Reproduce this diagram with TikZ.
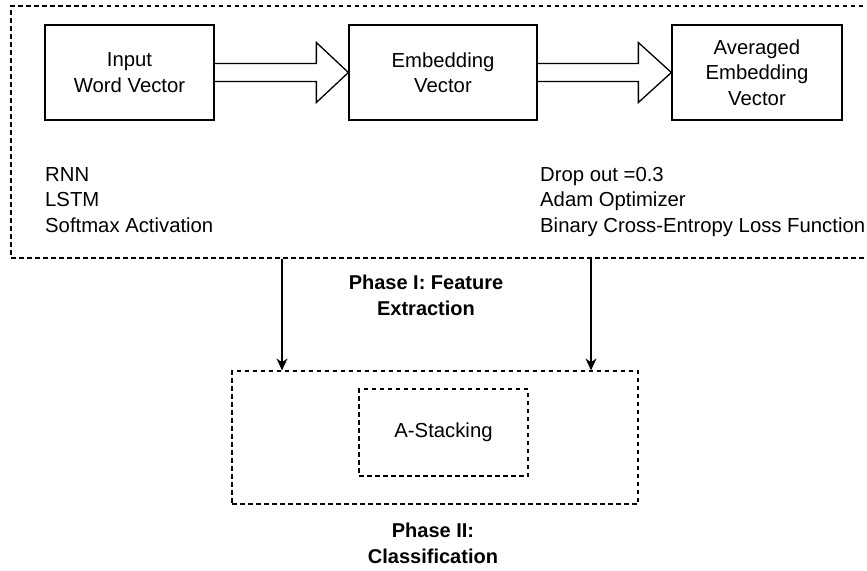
\documentclass[tikz,border=0pt]{standalone}
\usepackage{fontspec}
\setmainfont{Liberation Sans}
\usetikzlibrary{arrows.meta,calc}
\begin{document}
\begin{tikzpicture}[x=1pt,y=-1pt,
  every node/.style={font=\fontsize{20.3}{25.5}\selectfont},
  box/.style={draw, line width=1.3pt, minimum height=95pt, align=center, inner sep=0pt},
  dbox/.style={draw, line width=1.2pt, dash pattern=on 4.5pt off 3.5pt, inner sep=0pt},
  blockarrow/.style={draw, line width=1.3pt, line join=miter},
  flow/.style={line width=1.3pt, -{Stealth[length=12pt,width=11pt]}},
  phase/.style={font=\bfseries\fontsize{20}{26}\selectfont, align=center},
  list/.style={align=left, anchor=base west, inner sep=0pt}]
\useasboundingbox (0,0) rectangle (867,570);
\clip (0,0) rectangle (867,570);
% Phase I container (right edge runs past the picture)
\node[dbox, minimum width=864pt, minimum height=252pt] (ph1) at (443,132) {};
% boxes
\node[box, minimum width=169pt] (b1) at (129.5,72.5) {Input\\Word Vector};
\node[box, minimum width=188pt] (b2) at (443,72.5) {Embedding\\Vector};
\node[box, minimum width=170pt] (b3) at (757,72.5) {Averaged\\Embedding\\Vector};
% block arrows
\draw[blockarrow] ($(b1.east)+(0,-9)$) -- ($(b2.west)+(-32,-9)$) -- ($(b2.west)+(-32,-30)$) -- (b2.west)
  -- ($(b2.west)+(-32,30)$) -- ($(b2.west)+(-32,9)$) -- ($(b1.east)+(0,9)$);
\draw[blockarrow] ($(b2.east)+(0,-9)$) -- ($(b3.west)+(-33,-9)$) -- ($(b3.west)+(-33,-30)$) -- (b3.west)
  -- ($(b3.west)+(-33,30)$) -- ($(b3.west)+(-33,9)$) -- ($(b2.east)+(0,9)$);
% lists (base anchor = last line's baseline)
\node[list] (l1) at (45,232) {RNN\\LSTM\\Softmax Activation};
\node[list] (l2) at (540,232) {Drop out =0.3\\Adam Optimizer\\Binary Cross-Entropy Loss Function};
% phase labels
\node[phase] (t1) at (426,295) {Phase I: Feature\\Extraction};
% Phase II
\node[dbox, minimum width=406pt, minimum height=133pt] (ph2) at (435,437.5) {};
\node[dbox, minimum width=169pt, minimum height=87pt] (st) at (443.5,432.5) {A-Stacking};
\node[phase] (t2) at (433,543) {Phase II:\\Classification};
% connectors
\coordinate (ax1) at (282,0);
\coordinate (ax2) at (591,0);
\draw[flow] (ph1.south -| ax1) -- (ph2.north -| ax1);
\draw[flow] (ph1.south -| ax2) -- (ph2.north -| ax2);
\end{tikzpicture}
\end{document}
